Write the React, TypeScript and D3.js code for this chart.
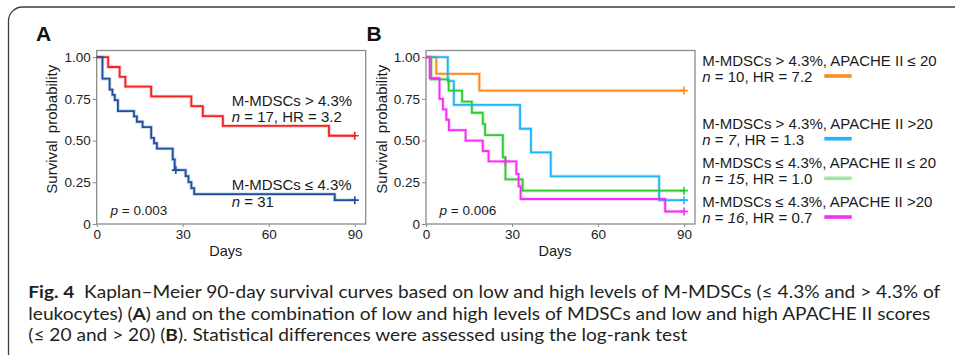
import React, { useEffect, useRef } from 'react';
import * as d3 from 'd3';

const FONT = "'Liberation Sans', Arial, Helvetica, sans-serif";
const CAPTION_FONT = "Lato, 'Open Sans', sans-serif";

// shared axes
const dayTicks = [0, 30, 60, 90];
const survTicks = [0, 0.25, 0.5, 0.75, 1];
const survTickLabels = ['0', '0.25', '0.50', '0.75', '1.00'];
const END_DAY = 90;

// Panel A: M-MDSCs > 4.3% (n = 17)
const aHighDays = [0, 4, 8, 10, 19, 33, 37, 44, 81];
const aHighSurv = [1, 0.941, 0.882, 0.824, 0.765, 0.706, 0.647, 0.588, 0.529];
const aHighCensor = [90];

// Panel A: M-MDSCs <= 4.3% (n = 31)
const aLowDays = [0, 2, 4.5, 5.5, 6.3, 7.4, 13, 14, 16, 19, 20, 21, 26.5, 27.2, 31, 32, 33, 34, 83];
const aLowSurv = [1, 0.871, 0.806, 0.774, 0.742, 0.677, 0.645, 0.613, 0.581, 0.516, 0.484, 0.452, 0.387, 0.323, 0.287, 0.251, 0.215, 0.179, 0.143];
const aLowCensor = [27.6, 90];

// Panel B
const bOrangeDays = [0, 3.6, 18.6];
const bOrangeSurv = [1, 0.9, 0.8];
const bOrangeCensor = [90];

const bCyanDays = [0, 7.6, 9.7, 32.8, 36.6, 43.5, 81.3];
const bCyanSurv = [1, 0.857, 0.714, 0.571, 0.429, 0.286, 0.143];
const bCyanCensor = [90];

const bGreenDays = [0, 1.8, 7.9, 12.6, 16, 19.8, 20.6, 26.8, 27.7, 33.7];
const bGreenSurv = [1, 0.867, 0.8, 0.733, 0.667, 0.6, 0.533, 0.4, 0.267, 0.2];
const bGreenCensor = [90];

const bMagentaDays = [0, 1.3, 4.7, 5.9, 7.1, 8, 13.8, 19.8, 21.8, 31.5, 32.3, 33, 83.4];
const bMagentaSurv = [1, 0.875, 0.75, 0.6875, 0.625, 0.5625, 0.5, 0.4375, 0.375, 0.3, 0.225, 0.15, 0.075];
const bMagentaCensor = [27.7, 90];

// Panel B legend
const legendGroups = ['M-MDSCs > 4.3%, APACHE II ≤ 20', 'M-MDSCs > 4.3%, APACHE II >20', 'M-MDSCs ≤ 4.3%, APACHE II ≤ 20', 'M-MDSCs ≤ 4.3%, APACHE II >20'];
const legendN = ['10', '7', '15', '16'];
const legendHR = ['7.2', '1.3', '1.0', '0.7'];
const legendColors = ['#ff8a1e', '#22b4f8', '#9fe69f', '#f52ef5'];

const COLORS = {
  red: '#f42222',
  blue: '#1f4f9e',
  orange: '#ff8a1e',
  cyan: '#22b4f8',
  green: '#2fcc2f',
  magenta: '#f52ef5',
};

type Series = { days: number[]; surv: number[]; censor: number[]; color: string };
type Part = [string, boolean?];

const PLOT_W = 269;
const PLOT_TOP = 50.5;
const PLOT_BOTTOM = 224;
const X_MAX = 93.8;
const Y_MAX = 1.04;

// labels are set a bit smaller and stretched back to the width of 15px text,
// so that two stacked lines keep the tight spacing of the figure
const LABEL_SIZE = 14;
const LABEL_STRETCH = 15 / 14;

const addText = (g: any, x: number, y: number, parts: Part[], size: number, stretch = 1) => {
  const t = g.append('text')
    .attr('x', x)
    .attr('y', y)
    .attr('fill', '#1a1a1a')
    .style('font-family', FONT)
    .style('font-size', `${size}px`)
    .style('white-space', 'pre');
  parts.forEach(([s, it]) => {
    t.append('tspan').attr('font-style', it ? 'italic' : 'normal').text(s);
  });
  if (stretch !== 1) {
    const w = (t.node() as SVGTextElement).getComputedTextLength();
    t.attr('textLength', w * stretch).attr('lengthAdjust', 'spacingAndGlyphs');
  }
  return t;
};

const drawPanel = (svg: any, left: number, series: Series[]) => {
  const x = d3.scaleLinear().domain([0, X_MAX]).range([left, left + PLOT_W]);
  const y = d3.scaleLinear().domain([0, Y_MAX]).range([PLOT_BOTTOM, PLOT_TOP]);
  const g = svg.append('g');

  g.append('rect')
    .attr('x', left)
    .attr('y', PLOT_TOP)
    .attr('width', PLOT_W)
    .attr('height', PLOT_BOTTOM - PLOT_TOP)
    .attr('fill', 'none')
    .attr('stroke', '#8c8c8c')
    .attr('stroke-width', 1.3);

  const yAxis = g.append('g')
    .attr('transform', `translate(${left},0)`)
    .call(d3.axisLeft(y)
      .tickValues(survTicks)
      .tickFormat((_d: any, i: number) => survTickLabels[i])
      .tickSize(4)
      .tickPadding(2));
  yAxis.select('.domain').remove();
  yAxis.selectAll('line').attr('stroke', '#8c8c8c');
  yAxis.attr('font-family', FONT).attr('font-size', 13.5);
  yAxis.selectAll('text').attr('fill', '#222');

  const xAxis = g.append('g')
    .attr('transform', `translate(0,${PLOT_BOTTOM})`)
    .call(d3.axisBottom(x)
      .tickValues(dayTicks)
      .tickFormat(d3.format('d'))
      .tickSize(3)
      .tickPadding(2.5));
  xAxis.select('.domain').remove();
  xAxis.selectAll('line').attr('stroke', '#8c8c8c');
  xAxis.attr('font-family', FONT).attr('font-size', 13.5);
  xAxis.selectAll('text').attr('fill', '#222');

  // axis titles
  g.append('text')
    .attr('transform', `translate(${left - 45},${(PLOT_TOP + PLOT_BOTTOM) / 2 - 8}) rotate(-90)`)
    .attr('text-anchor', 'middle')
    .attr('dominant-baseline', 'central')
    .attr('fill', '#1a1a1a')
    .style('font-family', FONT)
    .style('font-size', '15px')
    .style('word-spacing', '3px')
    .text('Survival probability');

  g.append('text')
    .attr('x', (x(0) + x(90)) / 2)
    .attr('y', 256)
    .attr('text-anchor', 'middle')
    .attr('fill', '#1a1a1a')
    .style('font-family', FONT)
    .style('font-size', '14.5px')
    .text('Days');

  const line = d3.line<[number, number]>()
    .x(d => x(d[0]))
    .y(d => y(d[1]))
    .curve(d3.curveStepAfter);

  series.forEach(s => {
    const pts: [number, number][] = s.days.map((d, i) => [d, s.surv[i]] as [number, number]);
    pts.push([END_DAY, s.surv[s.surv.length - 1]]);
    // soft halo like the scanned figure
    g.append('path')
      .datum(pts)
      .attr('d', line)
      .attr('fill', 'none')
      .attr('stroke', s.color)
      .attr('stroke-opacity', 0.25)
      .attr('stroke-width', 3.5);
    g.append('path')
      .datum(pts)
      .attr('d', line)
      .attr('fill', 'none')
      .attr('stroke', s.color)
      .attr('stroke-width', 1.8);
    s.censor.forEach(t => {
      const i = d3.bisectRight(s.days, t) - 1;
      const cx = x(t);
      const cy = y(s.surv[i]);
      g.append('path')
        .attr('d', `M${cx - 4},${cy}H${cx + 4}M${cx},${cy - 4}V${cy + 4}`)
        .attr('stroke', s.color)
        .attr('stroke-width', 1.6)
        .attr('fill', 'none');
    });
  });

  return g;
};

const App = () => {
  const svgRef = useRef<SVGSVGElement>(null);

  useEffect(() => {
    const svg = d3.select(svgRef.current);
    svg.selectAll('*').remove();

    svg.append('rect')
      .attr('width', 955)
      .attr('height', 355)
      .attr('fill', '#fff');

    // outer frame
    svg.append('rect')
      .attr('x', 8.5)
      .attr('y', 7)
      .attr('width', 990)
      .attr('height', 360)
      .attr('rx', 14)
      .attr('fill', 'none')
      .attr('stroke', '#3c3c3c')
      .attr('stroke-width', 1.3);

    // Panel A
    const gA = drawPanel(svg, 96.7, [
      { days: aHighDays, surv: aHighSurv, censor: aHighCensor, color: COLORS.red },
      { days: aLowDays, surv: aLowSurv, censor: aLowCensor, color: COLORS.blue },
    ]);
    addText(gA, 231.7, 106, [['M-MDSCs > 4.3%']], LABEL_SIZE, LABEL_STRETCH);
    addText(gA, 231.7, 122, [['n', true], [' = 17, HR = 3.2']], LABEL_SIZE, LABEL_STRETCH);
    addText(gA, 231.7, 190, [['M-MDSCs ≤ 4.3%']], LABEL_SIZE, LABEL_STRETCH);
    addText(gA, 231.7, 206.5, [['n', true], [' = 31']], LABEL_SIZE, LABEL_STRETCH);
    addText(gA, 110.5, 214.5, [['p', true], [' = 0.003']], 13.5);

    // Panel B
    const gB = drawPanel(svg, 426, [
      { days: bOrangeDays, surv: bOrangeSurv, censor: bOrangeCensor, color: COLORS.orange },
      { days: bCyanDays, surv: bCyanSurv, censor: bCyanCensor, color: COLORS.cyan },
      { days: bGreenDays, surv: bGreenSurv, censor: bGreenCensor, color: COLORS.green },
      { days: bMagentaDays, surv: bMagentaSurv, censor: bMagentaCensor, color: COLORS.magenta },
    ]);
    addText(gB, 439.5, 214.5, [['p', true], [' = 0.006']], 13.5);

    const legendY = [66, 128.7, 168.3, 207];
    legendGroups.forEach((label, i) => {
      addText(svg, 702.3, legendY[i], [[label]], LABEL_SIZE, LABEL_STRETCH);
      addText(svg, 702.3, legendY[i] + 15.8, [['n', true], [' = '], [legendN[i], i > 0], [', HR = ' + legendHR[i]]], LABEL_SIZE, LABEL_STRETCH);
      svg.append('line')
        .attr('x1', 824.3)
        .attr('x2', 851.7)
        .attr('y1', legendY[i] + 10)
        .attr('y2', legendY[i] + 10)
        .attr('stroke', legendColors[i])
        .attr('stroke-width', 3.6);
    });

    // panel letters
    ['A', 'B'].forEach((l, i) => {
      svg.append('text')
        .attr('x', i === 0 ? 36 : 366.5)
        .attr('y', 40.7)
        .attr('fill', '#111')
        .style('font-family', FONT)
        .style('font-size', '21px')
        .style('font-weight', 700)
        .text(l);
    });

    // caption
    const captionLines: { y: number; len: number; parts: [string, boolean][] }[] = [
      { y: 298.3, len: 912, parts: [['Fig. 4', true], ['  Kaplan–Meier 90-day survival curves based on low and high levels of M-MDSCs (≤ 4.3% and > 4.3% of', false]] },
      { y: 319.6, len: 902, parts: [['leukocytes) (', false], ['A', true], [') and on the combination of low and high levels of MDSCs and low and high APACHE II scores', false]] },
      { y: 340.6, len: 659, parts: [['(≤ 20 and > 20) (', false], ['B', true], ['). Statistical differences were assessed using the log-rank test', false]] },
    ];
    captionLines.forEach(c => {
      const t = svg.append('text')
        .attr('x', 28.3)
        .attr('y', c.y)
        .attr('textLength', c.len)
        .attr('lengthAdjust', 'spacingAndGlyphs')
        .attr('fill', '#231f20')
        .style('font-family', CAPTION_FONT)
        .style('font-size', '17px')
        .style('white-space', 'pre');
      c.parts.forEach(([s, b]) => {
        t.append('tspan').attr('font-weight', b ? 700 : 400).text(s);
      });
    });
  }, []);

  return (
    <svg
      ref={svgRef}
      width={955}
      height={355}
      style={{ position: 'absolute', left: 0, top: 0, display: 'block' }}
    />
  );
};

export default App;
